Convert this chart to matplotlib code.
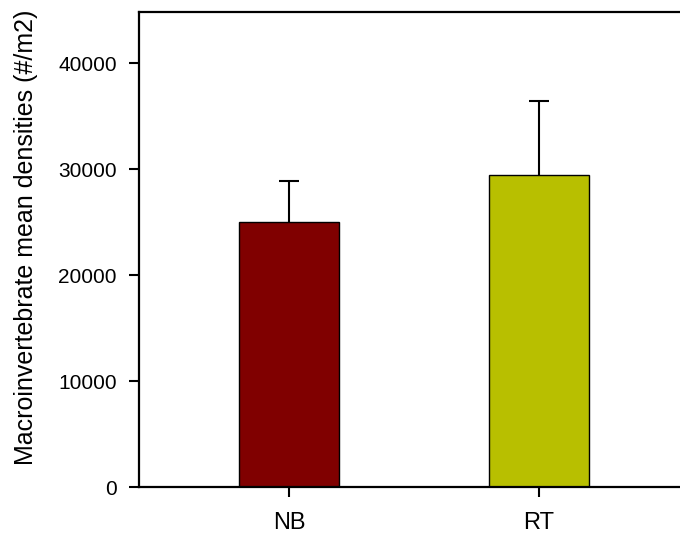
import matplotlib
matplotlib.use("Agg")
import matplotlib.pyplot as plt

plt.rcParams['font.family'] = ['Liberation Sans', 'DejaVu Sans']

sites = ['NB', 'RT']
mean_density = [25000, 29500]
err_upper = [3900, 6950]
bar_colors = ['#800000', '#B8BF00']

fig = plt.figure(figsize=(6.8, 5.38), dpi=100)
ax = fig.add_axes([0.2044, 0.0942, 0.8088, 0.8835])

x = range(len(sites))
ax.bar(x, mean_density, width=0.4, color=bar_colors, edgecolor='black',
       linewidth=1.0, zorder=2)
# upper whisker only
_, caps, _ = ax.errorbar(x, mean_density, yerr=[[0, 0], err_upper], fmt='none',
                         ecolor='black', elinewidth=1.5, capsize=7.2,
                         capthick=1.5, zorder=1)
caps[0].set_visible(False)

ax.set_xlim(-0.6, 1.6)
ax.set_ylim(0, 44850)
ax.set_xticks(list(x))
ax.set_xticklabels(sites, fontsize=17)
ax.set_yticks([0, 10000, 20000, 30000, 40000])
ax.tick_params(axis='y', labelsize=15, length=7.5, width=1.5, pad=8.5)
ax.tick_params(axis='x', length=7.5, width=1.5, pad=10)

for side in ['left', 'bottom', 'top']:
    ax.spines[side].set_linewidth(1.6)
ax.spines['right'].set_visible(False)

ax.set_ylabel('Macroinvertebrate mean densities (#/m2)', fontsize=18)
ax.yaxis.set_label_coords(-0.184, 0.526)

fig.savefig('out.png', dpi=100)
